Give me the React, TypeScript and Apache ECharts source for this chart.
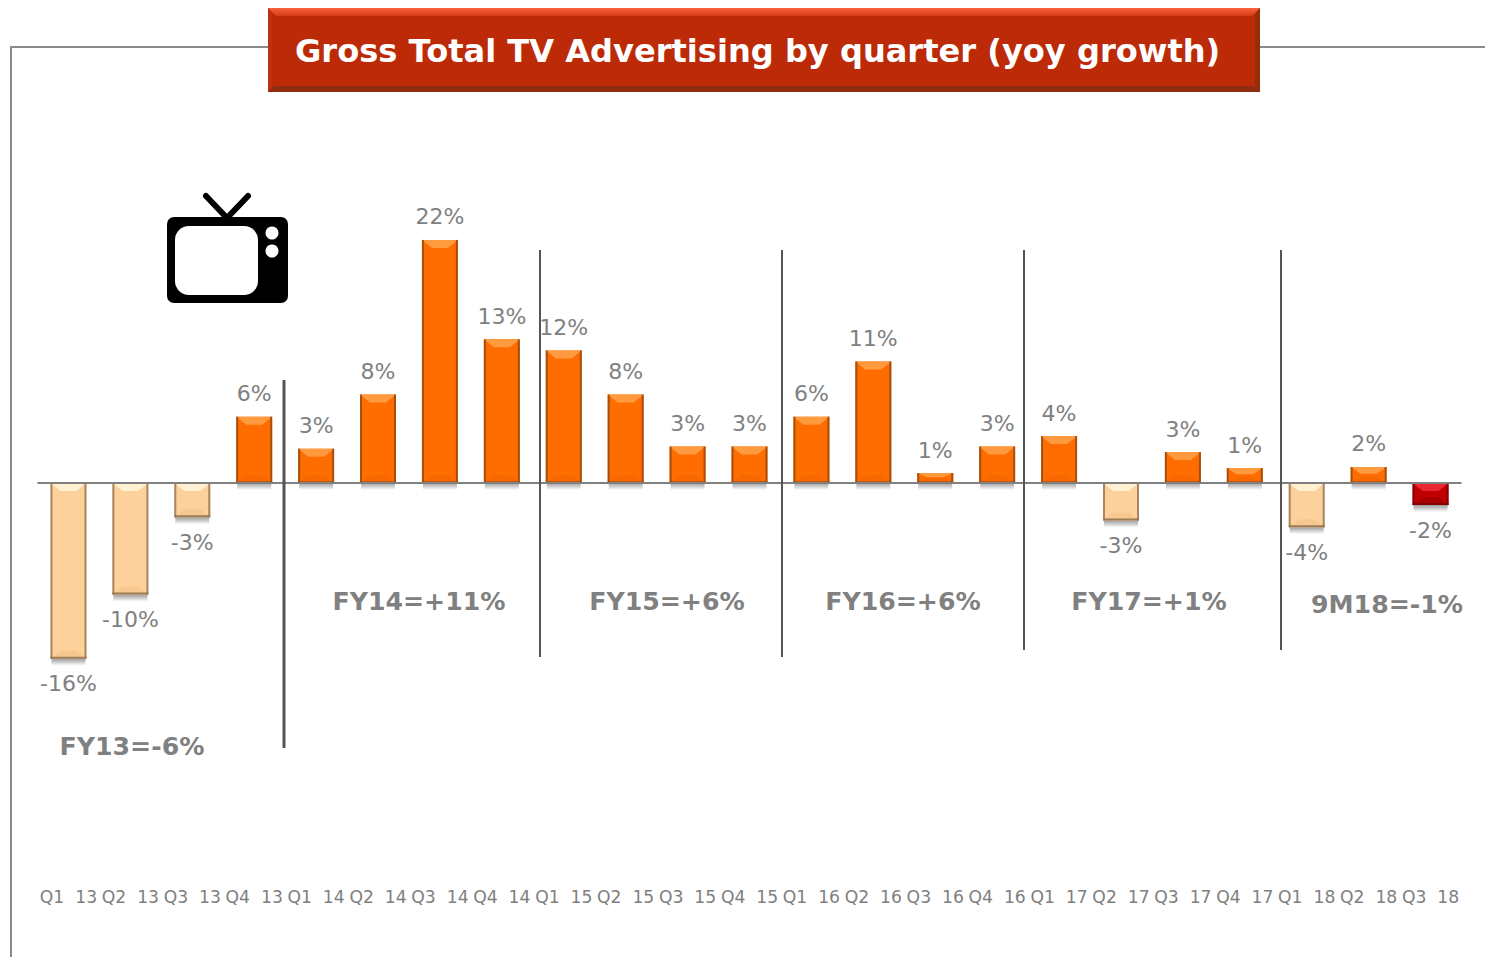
import React, { useEffect, useRef } from "react";
import * as echarts from "echarts";

const categories = ["Q1  13","Q2  13","Q3  13","Q4  13","Q1  14","Q2  14","Q3  14","Q4  14","Q1  15","Q2  15","Q3  15","Q4  15","Q1  16","Q2  16","Q3  16","Q4  16","Q1  17","Q2  17","Q3  17","Q4  17","Q1  18","Q2  18","Q3  18"];
const growth = [-15.9,-10.1,-3.1,6.0,3.1,8.0,22.0,13.0,12.0,8.0,3.3,3.3,6.0,11.0,0.9,3.3,4.25,-3.4,2.8,1.35,-4.0,1.45,-2.0];
const valueLabels = ["-16%","-10%","-3%","6%","3%","8%","22%","13%","12%","8%","3%","3%","6%","11%","1%","3%","4%","-3%","3%","1%","-4%","2%","-2%"];
const periodNames = ["FY13=-6%","FY14=+11%","FY15=+6%","FY16=+6%","FY17=+1%","9M18=-1%"];
const periodX = [132,419,667,903,1149,1387];
const periodY = [746,601,601,601,601,604];
const dividers = [[284,380,748,3],[540,250,657,2],[782,250,657,2],[1024,250,650,2],[1281,250,650,2]];
const TITLE = "Gross Total TV Advertising by quarter (yoy growth)";
const FONT = "DejaVu Sans";
const GREY = "#808080";

const ORANGE = { body: "#ff6c00", hi: "#ff9a3e", side: "#8f4a14", low: "#f86800" };
const PALE = { body: "#fdd19c", hi: "#fff1d2", side: "#927352", low: "#f6c890" };
const RED = { body: "#c00000", hi: "#ea2630", side: "#7d0000", low: "#a80000" };
const paletteOf = (v: number, i: number) => (i === growth.length - 1 ? RED : v < 0 ? PALE : ORANGE);

const BAR_W = 36;

function renderBevel(params: any, api: any) {
  const i = api.value(0);
  const v = api.value(1);
  const p = paletteOf(v, i);
  const [cx, y0] = api.coord([i, 0]);
  const [, y1] = api.coord([i, v]);
  const l = cx - BAR_W / 2;
  const r = cx + BAR_W / 2;
  const top = Math.min(y0, y1);
  const bot = Math.max(y0, y1);
  const h = bot - top;
  const d = Math.min(8, h * 0.42);
  const s = 10;
  const poly = (points: number[][], fill: string) => ({ type: "polygon", shape: { points }, style: { fill }, silent: true });
  const edge = (x: number, y: number, width: number, height: number, opacity: number) => ({
    type: "rect", shape: { x, y, width, height }, style: { fill: p.side, opacity },
  });
  return {
    type: "group",
    silent: true,
    children: [
      {
        type: "rect",
        shape: { x: l + 1, y: bot, width: BAR_W - 2, height: 7 },
        style: { fill: { type: "linear", x: 0, y: 0, x2: 0, y2: 1, colorStops: [{ offset: 0, color: "rgba(0,0,0,0.38)" }, { offset: 1, color: "rgba(0,0,0,0)" }] } },
      },
      poly([[l, bot], [r, bot], [r - s, bot - d], [l + s, bot - d]], p.low),
      poly([[l, top], [r, top], [r - s, top + d], [l + s, top + d]], p.hi),
      edge(l, top, 2, h, 0.8),
      edge(r - 2, top, 2, h, 0.8),
      edge(l, bot - 2, BAR_W, 2, v < 0 ? 0.9 : 0.5),
    ],
  };
}

const baseText = { fontFamily: FONT, textAlign: "center", textVerticalAlign: "middle", verticalAlign: "middle" };

const graphics: any[] = [
  { type: "polyline", z: 1, shape: { points: [[11, 957], [11, 47], [268, 47]] }, style: { stroke: "#8a8a8a", lineWidth: 2, fill: "none" } },
  { type: "line", z: 1, shape: { x1: 1260, y1: 47, x2: 1485, y2: 47 }, style: { stroke: "#8a8a8a", lineWidth: 2 } },
  { type: "rect", z: 2, shape: { x: 268, y: 8, width: 992, height: 84 }, style: { fill: "#bc2a08" } },
  { type: "polygon", z: 3, shape: { points: [[268, 8], [1260, 8], [1252, 16], [276, 16]] },
    style: { fill: { type: "linear", x: 0, y: 0, x2: 0, y2: 1, colorStops: [{ offset: 0, color: "#f8623c" }, { offset: 1, color: "#d63c16" }] } } },
  { type: "polygon", z: 3, shape: { points: [[268, 92], [1260, 92], [1254, 86], [274, 86]] }, style: { fill: "#8e2d10" } },
  { type: "polygon", z: 3, shape: { points: [[1260, 8], [1260, 92], [1255, 86], [1255, 15]] }, style: { fill: "#962c0a" } },
  { type: "polygon", z: 3, shape: { points: [[268, 8], [268, 92], [272, 86], [272, 14]] }, style: { fill: "#c03010" } },
  { type: "text", z: 4, x: 295, y: 51, style: { text: TITLE, fontFamily: FONT, fontWeight: "bold", fontSize: 32.1, fill: "#ffffff", textAlign: "left", textVerticalAlign: "middle", verticalAlign: "middle" } },
  // TV icon
  { type: "polyline", z: 2, shape: { points: [[206, 196], [227, 218], [248, 196]] }, style: { stroke: "#000", lineWidth: 6, lineCap: "round", lineJoin: "round", fill: "none" } },
  { type: "rect", z: 3, shape: { x: 167, y: 217, width: 121, height: 86, r: 7 }, style: { fill: "#000" } },
  { type: "rect", z: 4, shape: { x: 175, y: 226, width: 83, height: 69, r: 14 }, style: { fill: "#fff" } },
  { type: "circle", z: 4, shape: { cx: 272, cy: 233, r: 6.5 }, style: { fill: "#fff" } },
  { type: "circle", z: 4, shape: { cx: 272, cy: 251, r: 6.5 }, style: { fill: "#fff" } },
  ...dividers.map(([x, y1, y2, w]) => ({ type: "line", z: 20, shape: { x1: x, y1, x2: x, y2 }, style: { stroke: "#555555", lineWidth: w } })),
  ...periodNames.map((t, i) => ({ type: "text", z: 20, x: periodX[i], y: periodY[i], style: { ...baseText, text: t, fontWeight: "bold", fontSize: 25.2, fill: GREY } })),
];

export default function App() {
  const ref = useRef<HTMLDivElement>(null);
  useEffect(() => {
    const chart = echarts.init(ref.current!, null, { renderer: "svg" });
    chart.setOption({
      animation: false,
      backgroundColor: "#ffffff",
      grid: { left: 37.5, right: 23.5, top: 217.8, height: 663, containLabel: false },
      xAxis: {
        type: "category",
        data: categories,
        axisLine: { show: false, onZero: false },
        axisTick: { show: false },
        axisLabel: { interval: 0, margin: 8, color: GREY, fontFamily: FONT, fontSize: 17.2 },
      },
      yAxis: { type: "value", min: -36, max: 24, show: false },
      series: [
        {
          type: "bar",
          barWidth: BAR_W,
          z: 5,
          data: growth.map((v, i) => ({
            value: v,
            itemStyle: { color: paletteOf(v, i).body },
            label: { distance: v < 0 ? 14 : 12 },
          })),
          label: {
            show: true,
            position: "outside",
            color: GREY,
            fontFamily: FONT,
            fontSize: 22,
            formatter: (p: any) => valueLabels[p.dataIndex],
          },
          markLine: {
            silent: true,
            symbol: "none",
            z: 8,
            label: { show: false },
            lineStyle: { color: "#808080", width: 2, type: "solid" },
            data: [{ yAxis: 0 }],
          },
        },
        {
          type: "custom",
          z: 6,
          renderItem: renderBevel,
          encode: { x: 0, y: 1 },
          silent: true,
          data: growth.map((v, i) => [i, v]),
        },
      ],
      graphic: graphics,
    });
    return () => chart.dispose();
  }, []);
  return <div ref={ref} style={{ position: "absolute", left: 0, top: 0, width: 1485, height: 957 }} />;
}
